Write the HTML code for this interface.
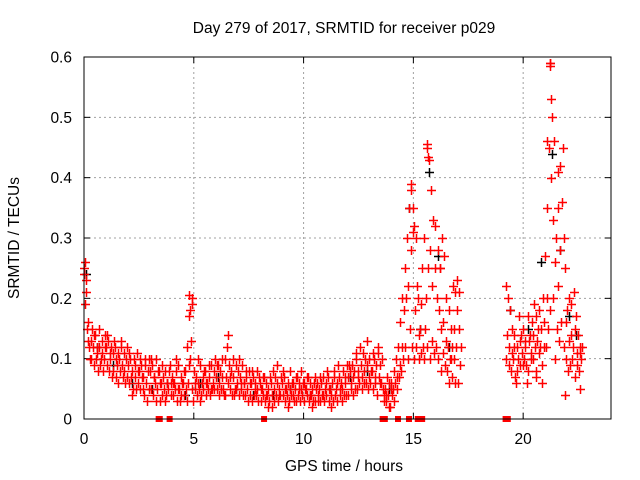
<!DOCTYPE html>
<html><head><meta charset="utf-8"><style>
html,body{margin:0;padding:0;background:#fff;}
svg{display:block;font-family:"Liberation Sans",Arial,sans-serif;}
</style></head><body>
<svg id="chart" width="640" height="480" viewBox="0 0 640 480" xmlns="http://www.w3.org/2000/svg">
<rect width="640" height="480" fill="#fff"/>
<text x="344" y="33" text-anchor="middle" font-size="15.5" fill="#000">Day 279 of 2017, SRMTID for receiver p029</text>
<text transform="translate(19,238) rotate(-90)" text-anchor="middle" font-size="15.5" fill="#000">SRMTID / TECUs</text>
<text x="344" y="471" text-anchor="middle" font-size="15.5" fill="#000">GPS time / hours</text>
<g id="grid"></g>
<g id="ticks"></g>
<g id="blk"></g>
<g id="red"></g>
<g id="sq"></g>
<rect x="84" y="57" width="527" height="362" fill="none" stroke="#000" stroke-width="1"/>
</svg>
<script>
const xTicks=[0,5,10,15,20];
const yTicks=[0,0.1,0.2,0.3,0.4,0.5,0.6];
const yTickLabels=["0","0.1","0.2","0.3","0.4","0.5","0.6"];
const redT1=[0.0,0.1,0.2,0.3,0.4,0.5,0.6,0.7,0.8,0.9,1.0,1.1,1.2,1.3,1.4,1.5,1.6,1.7,1.8,1.9,2.0,2.1,2.2,2.3,2.4,2.5,2.6,2.7,2.8,2.9,3.0,3.1,3.2,3.3,3.4,3.5,3.6,3.7,3.8,3.9,4.0,4.1,4.2,4.3,4.4,4.5,4.6,4.7,4.8,4.9,5.0,5.1,5.2,5.3,5.4,5.5,5.6,5.7,5.8,5.9,6.0,6.1,6.2,6.3,6.4,6.5,6.6,6.7,6.8,6.9,7.0,7.1,7.2,7.3,7.4,7.5,7.6,7.7,7.8,7.9,8.0,8.1,8.2,8.3,8.4,8.5,8.6,8.7,8.8,8.9,9.0,9.1,9.2,9.3,9.4,9.5,9.6,9.7,9.8,9.9,10.0,10.1,10.2,10.3,10.4,10.5,10.6,10.7,10.8,10.9,11.0,11.1,11.2,11.3,11.4,11.5,11.6,11.7,11.8,11.9,12.0,12.1,12.2,12.3,12.4,12.5,12.6,12.7,12.8,12.9,13.0,13.1,13.2,13.3,13.4,13.5,13.6,13.7,13.8,13.9,14.0,14.1,14.2,14.3,14.4,14.5,14.6,14.7,14.8,14.9,15.0,15.1,15.2,15.3,15.4,15.5,15.6,15.7,15.8,15.9,16.0,16.1,16.2,16.3,16.4,16.5,16.6,16.7,16.8,16.9,17.0,17.1,19.2,19.3,19.4,19.5,19.6,19.7,19.8,19.9,20.0,20.1,20.2,20.3,20.4,20.5,20.6,20.7,20.8,20.9,21.0,21.1,21.2,21.3,21.4,21.5,21.6,21.7,21.8,21.9,22.0,22.1,22.2,22.3,22.4,22.5,22.6];
const redA=[.25,.21,.16,.13,.12,.14,.11,.12,.13,.10, .12,.13,.10,.11,.12,.09,.10,.13,.08,.10, .09,.10,.08,.07,.11,.08,.09,.07,.10,.08, .08,.09,.07,.10,.08,.06,.07,.08,.06,.09, .07,.06,.08,.09,.07,.06,.08,.12,.17,.19, .08,.07,.06,.09,.07,.08,.06,.07,.09,.08, .07,.09,.08,.07,.10,.12,.09,.08,.07,.09, .08,.07,.09,.06,.07,.08,.06,.07,.06,.05, .06,.05,.07,.06,.05,.06,.08,.07,.06,.05, .06,.07,.05,.06,.08,.06,.05,.07,.06,.05, .06,.05,.07,.06,.05,.07,.06,.05,.06,.07, .06,.07,.05,.06,.08,.06,.07,.06,.08,.07, .07,.08,.09,.08,.10,.08,.09,.11,.10,.09, .10,.08,.10,.09,.11,.09,.05,.05,.07,.06, .06,.08,.10,.12,.16,.20,.25,.30,.35,.38, .35,.30,.20,.15,.25,.30,.45,.43,.38,.33, .32,.28,.25,.30,.27,.20,.18,.15,.22,.21, .23,.21, .22,.20,.18,.15,.14,.12,.17,.14, .15,.13,.17,.14,.16,.19,.17,.18,.15,.20, .27,.35,.59,.50,.46,.30,.35,.42,.45,.25, .18,.20,.19,.21,.17,.14,.12];
const redB=[.19,.15,.12,.10,.09,.10,.08,.09,.11,.12, .09,.08,.12,.08,.07,.11,.08,.09,.11,.07, .06,.07,.05,.09,.06,.05,.07,.04,.06,.05, .05,.04,.06,.05,.03,.04,.05,.04,.05,.04, .04,.05,.03,.05,.04,.04,.05,.06,.10,.05, .05,.04,.05,.04,.05,.04,.05,.04,.05,.05, .05,.04,.05,.05,.04,.06,.05,.04,.04,.05, .04,.05,.04,.04,.05,.04,.03,.04,.04,.03, .03,.04,.03,.04,.03,.02,.03,.04,.03,.04, .04,.03,.04,.03,.04,.04,.03,.04,.03,.04, .03,.04,.03,.04,.03,.03,.04,.03,.04,.03, .04,.03,.04,.03,.04,.03,.04,.05,.04,.04, .04,.05,.04,.05,.05,.06,.05,.06,.06,.05, .06,.05,.06,.04,.07,.06,.03,.03,.04,.02, .04,.03,.05,.07,.08,.10,.12,.10,.15,.12, .10,.12,.10,.11,.12,.15,.12,.10,.13,.11, .12,.10,.08,.11,.09,.08,.06,.07,.10,.12, .06,.09, .10,.09,.08,.10,.07,.08,.09,.11, .10,.09,.08,.11,.10,.12,.13,.11,.09,.12, .12,.15,.18,.20,.10,.15,.13,.16,.12,.10, .08,.09,.10,.07,.11,.08,.10];
const redC=[.23,.13,.10,.15,.14,.12,.15,.10,.08,.14, .14,.11,.07,.13,.10,.06,.12,.07,.06,.12, .11,.04,.10,.05,.08,.10,.05,.09,.03,.10, .10,.07,.03,.08,.06,.09,.03,.06,.08,.06, .06,.10,.05,.03,.06,.08,.03,.09,.13,.03, .06,.10,.03,.06,.08,.06,.09,.05,.06,.10, .09,.06,.10,.04,.07,.14,.07,.10,.05,.06, .10,.06,.06,.08,.03,.06,.08,.05,.08,.07, .05,.07,.04,.02,.07,.04,.05,.09,.04,.07, .08,.05,.02,.05,.06,.03,.07,.05,.08,.06, .05,.07,.04,.02,.06,.05,.03,.07,.04,.05, .08,.05,.02,.07,.05,.09,.05,.03,.06,.09, .09,.06,.07,.11,.07,.12,.07,.08,.13,.07, .08,.11,.07,.12,.06,.10,.04,.04,.02,.05, .05,.06,.07,.09,.12,.18,.20,.22,.28,.31, .18,.22,.14,.19,.10,.20,.25,.28,.22,.25, .20,.18,.15,.16,.13,.12,.10,.12,.15,.18, .15,.12, .14,.12,.11,.12,.06,.10,.13,.09, .12,.06,.13,.10,.14,.08,.15,.12,.06,.16, .20,.45,.40,.33,.26,.22,.28,.36,.30,.16, .13,.14,.12,.15,.09,.11,.12];
const extraX=[0.05,0.02,4.8,4.9,4.85,15.6,15.65,21.2,21.22,21.25,21.1,22.6,21.9,16.7,16.9,14.9,15.05,16.2,21.6,20.6];
const extraY=[0.26,0.24,0.205,0.2,0.18,0.455,0.435,0.585,0.59,0.53,0.46,0.05,0.04,0.1,0.06,0.39,0.32,0.25,0.41,0.07];
const blackX=[0.1,0.6,1.3,2.2,3.1,3.8,4.6,5.3,6.1,6.9,7.7,8.6,9.4,10.3,11.2,12.1,12.9,13.9,14.8,15.3,15.7,16.1,16.6,19.4,20.2,20.8,21.3,21.7,22.1,22.4];
const blackY=[0.24,0.12,0.09,0.06,0.05,0.06,0.04,0.06,0.07,0.05,0.04,0.04,0.05,0.04,0.05,0.07,0.08,0.05,0.35,0.15,0.41,0.27,0.12,0.18,0.15,0.26,0.44,0.28,0.17,0.14];
const gapX=[3.4,3.45,3.9,8.2,13.6,13.7,14.3,14.8,15.2,15.4,19.2,19.3];

const X0=84,X1=611,Y0=419,Y1=57,XMAX=24,YMAX=0.6;
const sx=v=>X0+v/XMAX*(X1-X0);
const sy=v=>Y0-v/YMAX*(Y0-Y1);
const NS="http://www.w3.org/2000/svg";
function mk(tag,parent,attrs){const e=document.createElementNS(NS,tag);for(const k in attrs)e.setAttribute(k,attrs[k]);parent.appendChild(e);return e;}
const grid=document.getElementById('grid'),ticks=document.getElementById('ticks');
xTicks.forEach((t,i)=>{const x=sx(t);
 if(t>0){const g=mk('line',grid,{x1:x,x2:x,y1:Y1,y2:Y0,stroke:'#a0a0a0','stroke-dasharray':'2,3'});
 
 }
 mk('line',ticks,{x1:x,x2:x,y1:Y0,y2:Y0-6,stroke:'#000'});
 mk('line',ticks,{x1:x,x2:x,y1:Y1,y2:Y1+6,stroke:'#000'});
 const l=mk('text',ticks,{x:x,y:444,'text-anchor':'middle','font-size':'15.5',fill:'#000'});l.textContent=String(t);
 
 
});
yTicks.forEach((t,i)=>{const y=sy(t);
 if(t>0&&t<YMAX){const g=mk('line',grid,{x1:X0,x2:X1,y1:y,y2:y,stroke:'#a0a0a0','stroke-dasharray':'2,3'});
 
 }
 mk('line',ticks,{x1:X0,x2:X0+6,y1:y,y2:y,stroke:'#000'});
 mk('line',ticks,{x1:X1,x2:X1-6,y1:y,y2:y,stroke:'#000'});
 const l=mk('text',ticks,{x:72,y:y+5.5,'text-anchor':'end','font-size':'15.5',fill:'#000'});l.textContent=yTickLabels[i];
 
 
});
function cross(parent,xv,yv,col,name){if(yv==null)return;const x=Math.round(sx(xv))+0.5,y=Math.round(sy(yv))+0.5;
 const p=mk('path',parent,{d:`M${x-4.5} ${y}H${x+4.5}M${x} ${y-4.5}V${y+4.5}`,stroke:col,'stroke-width':'1.5',fill:'none'});
 
 }
const blk=document.getElementById('blk'),red=document.getElementById('red'),sq=document.getElementById('sq');
blackX.forEach((x,i)=>cross(blk,x,blackY[i],'#000','black-point'));
redT1.forEach((t,i)=>{cross(red,t,redA[i],'#f00','red-point');cross(red,t+0.04,redB[i],'#f00','red-point');cross(red,t+0.07,redC[i],'#f00','red-point');});
extraX.forEach((x,i)=>cross(red,x,extraY[i],'#f00','red-point'));
gapX.forEach(g=>{const r=mk('rect',sq,{x:sx(g)-3,y:Y0-3,width:6,height:6,fill:'#f00'});
 
 });
</script>
</body></html>
